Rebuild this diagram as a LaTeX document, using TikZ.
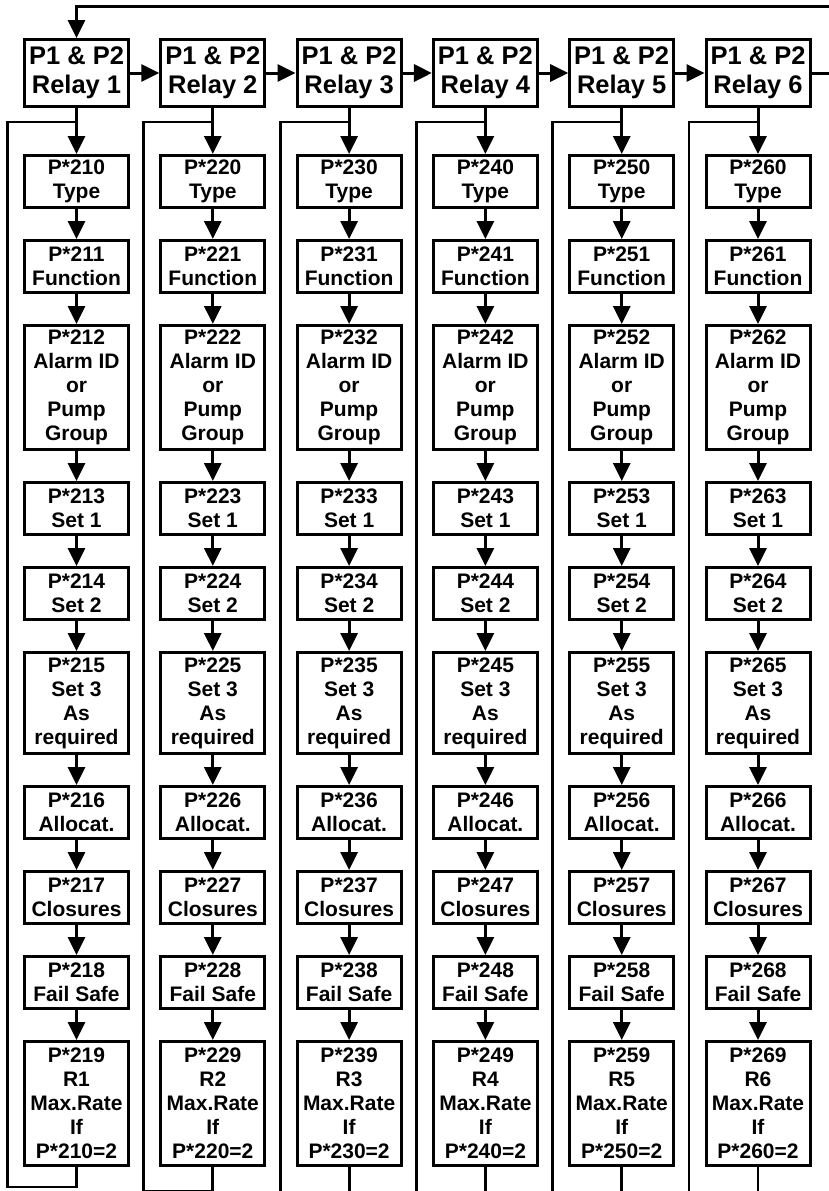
\documentclass[tikz,border=0pt]{standalone}
\usepackage{fontspec}
\setmainfont{Liberation Sans}
\usetikzlibrary{positioning,arrows.meta,calc}
\tikzset{
  relaybox/.style={draw, line width=3pt, align=center, inner sep=2pt,
    minimum width=104pt, minimum height=67pt,
    font=\fontsize{25.5}{29}\selectfont\bfseries},
  parbox/.style={draw, line width=3pt, align=center, inner sep=2pt,
    minimum width=104pt, minimum height=52pt,
    font=\fontsize{21}{24}\selectfont\bfseries},
  midbox/.style={parbox, minimum height=101pt},
  tallbox/.style={parbox, minimum height=124pt},
  flowarrow/.style={-{Triangle[length=18pt,width=17pt]}, line width=3pt},
  loopline/.style={line width=2.8pt},
}

\begin{document}
\begin{tikzpicture}[x=1pt,y=1pt]
  \useasboundingbox (0,0) rectangle (829,-1191);
  \clip (0,0) rectangle (829,-1191);
  \foreach \i/\yb [evaluate=\i as \cx using {76.5+136.3*(\i-1)}] in
      {1/1187,2/1191,3/1200,4/1200,5/1200,6/1200} {
    \node[relaybox] (relay\i) at (\cx,-73) {P1 \& P2\\Relay \i};
    \node[parbox, below=46pt of relay\i] (p\i0) {P*2\i0\\Type};
    \node[parbox, below=30pt of p\i0] (p\i1) {P*2\i1\\Function};
    \node[tallbox, below=30pt of p\i1] (p\i2) {P*2\i2\\Alarm ID\\or\\Pump\\Group};
    \node[parbox, below=30pt of p\i2] (p\i3) {P*2\i3\\Set 1};
    \node[parbox, below=30pt of p\i3] (p\i4) {P*2\i4\\Set 2};
    \node[midbox, below=30pt of p\i4] (p\i5) {P*2\i5\\Set 3\\As\\required};
    \node[parbox, below=30pt of p\i5] (p\i6) {P*2\i6\\Allocat.};
    \node[parbox, below=30pt of p\i6] (p\i7) {P*2\i7\\Closures};
    \node[parbox, below=30pt of p\i7] (p\i8) {P*2\i8\\Fail Safe};
    \node[tallbox, below=30pt of p\i8] (p\i9) {P*2\i9\\R\i\\Max.Rate\\If\\P*2\i0=2};
    \draw[flowarrow] (relay\i) -- (p\i0);
    \foreach \a [count=\b from 1] in {0,...,8}
      \draw[flowarrow] (p\i\a) -- (p\i\b);
    % return loop of each relay column
    \coordinate (join\i) at ($(relay\i.south)+(0,-14)$);
    \coordinate (low\i) at (\cx,-\yb);
    \coordinate (lowleft\i) at (\cx-69,-\yb);
    \draw[loopline] (p\i9.south) -- (low\i) -- (lowleft\i) |- (join\i);
  }
  \foreach \i [count=\j from 2] in {1,...,5}
    \draw[flowarrow] (relay\i) -- (relay\j);
  \coordinate (retcorner) at (845,-6);
  \draw[flowarrow] (relay6.east) -| (retcorner) -| (relay1.north);
\end{tikzpicture}
\end{document}
